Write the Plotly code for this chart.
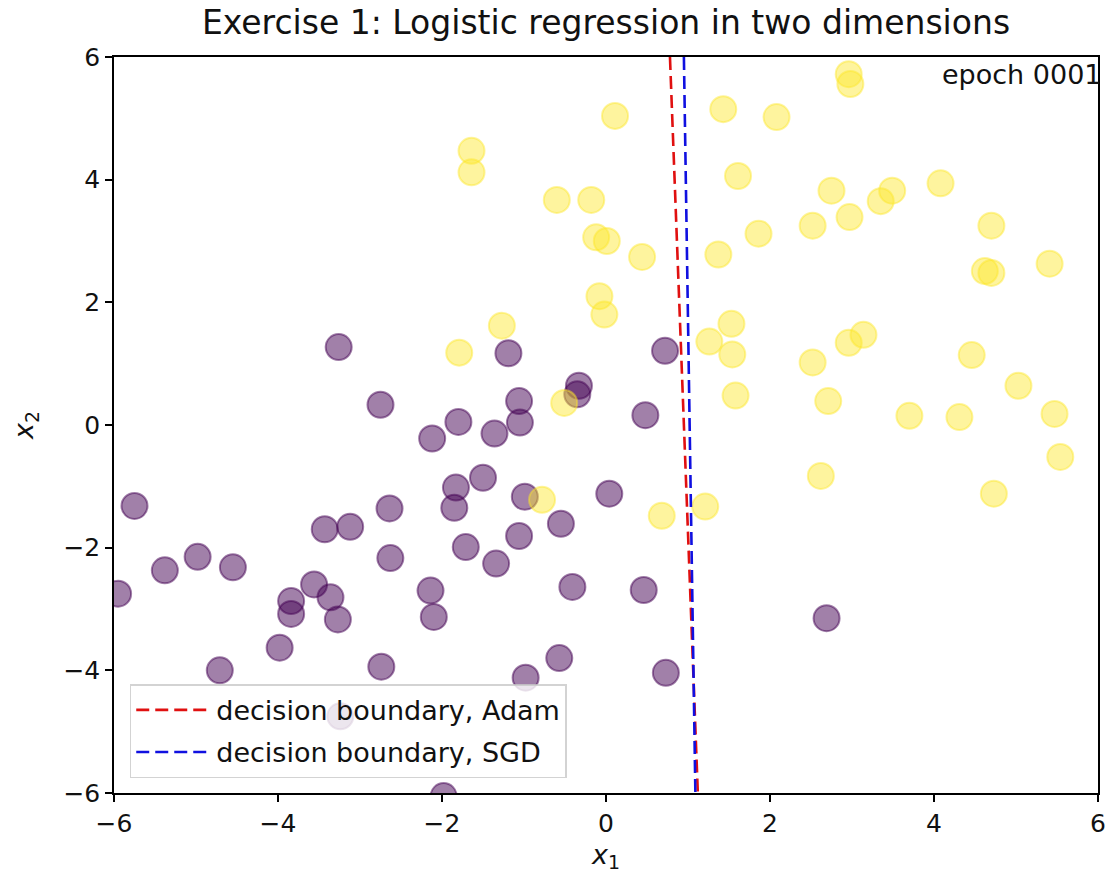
import plotly.graph_objects as go

# Class 0 samples (purple)
class0_x = [-5.95, -5.75, -5.38, -4.98, -4.55, -4.71, -3.98, -3.84, -3.84, -3.56,
            -3.36, -3.27, -3.43, -3.12, -3.26, -2.75, -2.64, -2.63, -2.74, -2.12,
            -2.14, -2.10, -1.80, -1.83, -1.85, -1.71, -1.50, -1.36, -1.34, -1.19,
            -1.06, -1.05, -0.99, -1.06, -0.98, -0.33, -0.35, -0.55, -0.41, -0.57,
            0.04, 0.48, 0.46, 0.72, 0.73, 2.69, -1.98, -3.24]
class0_y = [-2.75, -1.32, -2.37, -2.15, -2.32, -4.00, -3.63, -2.87, -3.08, -2.60,
            -2.81, -3.17, -1.70, -1.66, 1.27, 0.33, -1.36, -2.17, -3.94, -0.22,
            -2.70, -3.13, 0.05, -1.02, -1.35, -1.99, -0.86, -0.14, -2.26, 1.17,
            0.39, 0.04, -1.17, -1.81, -4.12, 0.64, 0.50, -1.61, -2.64, -3.80,
            -1.12, 0.16, -2.69, 1.21, -4.04, -3.15, -6.05, -4.75]

# Class 1 samples (yellow)
class1_x = [-1.64, -1.64, -0.60, -0.18, 0.11, -0.12, 0.01, 0.44, -0.08, -0.02,
            -1.27, -1.79, -0.51, -0.78, 0.68, 1.21, 1.43, 2.08, 2.96, 2.98,
            1.61, 1.37, 1.86, 2.75, 2.52, 2.97, 3.35, 3.49, 4.08, 4.70,
            4.62, 4.70, 5.41, 1.26, 1.53, 1.54, 1.58, 2.52, 2.96, 3.14,
            2.71, 4.46, 3.70, 4.31, 5.03, 5.47, 5.54, 2.62, 4.73]
class1_y = [4.47, 4.12, 3.67, 3.67, 5.04, 3.06, 3.00, 2.74, 2.10, 1.80,
            1.62, 1.18, 0.36, -1.22, -1.48, -1.33, 5.15, 5.02, 5.72, 5.56,
            4.06, 2.78, 3.12, 3.82, 3.25, 3.39, 3.65, 3.82, 3.94, 3.25,
            2.51, 2.48, 2.63, 1.36, 1.65, 1.15, 0.48, 1.02, 1.34, 1.47,
            0.39, 1.14, 0.15, 0.13, 0.64, 0.18, -0.52, -0.83, -1.12]

# Decision boundaries, x1 at the top and bottom of the view
boundary_x2 = [6, -6]
adam_x1 = [0.78, 1.12]
sgd_x1 = [0.95, 1.09]

tick_vals = [-6, -4, -2, 0, 2, 4, 6]
tick_text = ["\u22126", "\u22124", "\u22122", "0", "2", "4", "6"]

FONT = "DejaVu Sans"
PURPLE = "rgba(68,1,84,0.5)"
YELLOW = "rgba(252,230,40,0.45)"

fig = go.Figure()

fig.add_trace(go.Scatter(
    x=class0_x, y=class0_y, mode="markers", showlegend=False,
    marker=dict(size=26, color=PURPLE, line=dict(color=PURPLE, width=2)),
))
fig.add_trace(go.Scatter(
    x=class1_x, y=class1_y, mode="markers", showlegend=False,
    marker=dict(size=26, color=YELLOW, line=dict(color=YELLOW, width=2)),
))

fig.add_trace(go.Scatter(
    x=adam_x1, y=boundary_x2, mode="lines", name="decision boundary, Adam",
    legendgroup="adam",
    line=dict(color="#e01010", width=2.6, dash="13px,6px"),
))
fig.add_trace(go.Scatter(
    x=sgd_x1, y=boundary_x2, mode="lines", name="decision boundary, SGD",
    legendgroup="sgd",
    line=dict(color="#1010e0", width=2.6, dash="13px,6px"),
))

axis_common = dict(
    range=[-6, 6], tickvals=tick_vals, ticktext=tick_text,
    ticks="outside", ticklen=7, tickwidth=1.5, tickcolor="black",
    showline=True, linecolor="black", linewidth=1.5, mirror=True,
    showgrid=False, zeroline=False,
    tickfont=dict(family=FONT, size=25, color="#111111"),
)

fig.update_layout(
    width=1116, height=879,
    margin=dict(l=114, r=10, t=57, b=86),
    paper_bgcolor="white", plot_bgcolor="white",
    title=dict(
        text="Exercise 1: Logistic regression in two dimensions",
        x=0.5, xref="paper", xanchor="center",
        y=1 - 22 / 879, yanchor="middle",
        font=dict(family=FONT, size=33, color="#111111"),
    ),
    xaxis=dict(**axis_common,
               title=dict(text="<i>x</i><sub>1</sub>", standoff=8,
                          font=dict(family=FONT, size=27, color="#111111"))),
    yaxis=dict(**axis_common,
               title=dict(text="<i>x</i><sub>2</sub>", standoff=22,
                          font=dict(family=FONT, size=27, color="#111111"))),
    legend=dict(
        x=0.016, y=0.02, xanchor="left", yanchor="bottom",
        bgcolor="rgba(255,255,255,0.8)", bordercolor="rgba(200,200,200,0.8)",
        borderwidth=1.5, itemwidth=75,
        font=dict(family=FONT, size=27, color="#111111"),
        tracegroupgap=4,
    ),
    annotations=[dict(
        text="epoch 0001", x=1, y=1, xref="paper", yref="paper",
        xanchor="right", yanchor="top", xshift=6, yshift=0,
        showarrow=False, font=dict(family=FONT, size=27, color="#111111"),
    )],
)

fig.write_html("out.html")
